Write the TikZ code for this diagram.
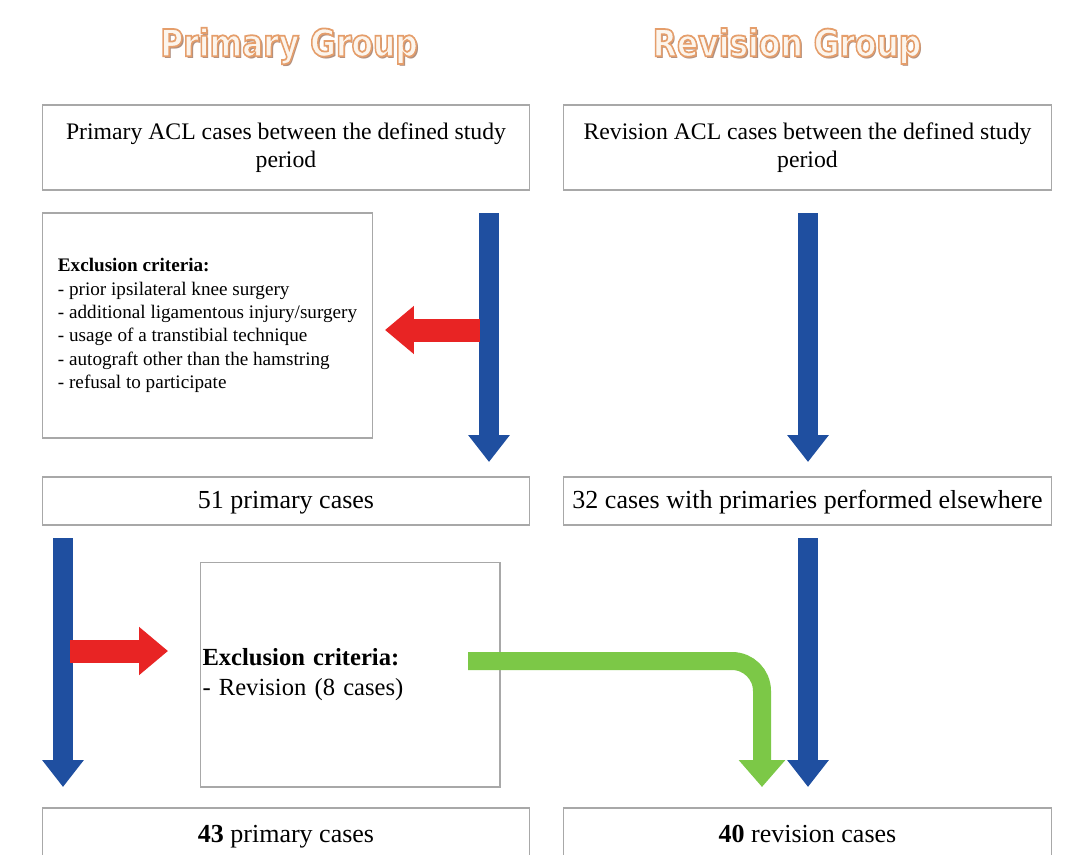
\documentclass[tikz,border=0pt]{standalone}
\usepackage{fontspec}
\setmainfont{Liberation Serif}
\newfontfamily\titlefont{DejaVu Sans}
\usetikzlibrary{arrows.meta}
\definecolor{BoxLine}{HTML}{A8A8A8}
\definecolor{FlowBlue}{HTML}{1F4FA0}
\definecolor{FlowRed}{HTML}{E82424}
\definecolor{FlowGreen}{HTML}{7CC847}
\definecolor{TitleShade}{HTML}{B09080}
% orange edged, pale filled lettering
\newcommand{\edgedtext}[1]{\special{pdf:literal direct 2 Tr 0.9 w 0.90 0.62 0.42 RG 0.99 0.96 0.93 rg}#1\special{pdf:literal direct 0 Tr 0 g 0 G}}

\tikzset{
  box/.style={draw=BoxLine, line width=0.6pt, fill=white, minimum width=9.76cm, align=center, inner sep=0pt},
  onebox/.style={box, text height=0.92em, text depth=0.12em, font=\fontsize{14.8}{17}\selectfont},
  exclbox/.style={draw=BoxLine, line width=0.6pt, fill=white, minimum height=4.5cm, align=left},
  bluearrow/.style={draw=FlowBlue, line width=0.4cm, -{Triangle[width=0.8cm,length=0.54cm]}},
  redarrow/.style={draw=FlowRed, line width=0.46cm, -{Triangle[width=0.93cm,length=0.58cm]}},
  greenarrow/.style={draw=FlowGreen, line width=0.36cm, rounded corners=0.6cm, -{Triangle[width=0.9cm,length=0.54cm]}},
  grouptitle/.style={font=\titlefont\bfseries\fontsize{19}{22}\selectfont}
}

\begin{document}
\begin{tikzpicture}[x=0.02cm,y=-0.02cm]
\useasboundingbox (0,0) rectangle (1075,855);
\clip (0,0) rectangle (1075,855);
\fill[white] (0,0) rectangle (1075,855);

% group titles
\node[grouptitle, text=TitleShade] (shadeL) at (291,48) {\scalebox{0.94}[1.12]{Primary Group}};
\node[grouptitle] (titleL) at (289,46) {\scalebox{0.94}[1.12]{\edgedtext{Primary Group}}};
\node[grouptitle, text=TitleShade] (shadeR) at (789,48) {\scalebox{0.94}[1.12]{Revision Group}};
\node[grouptitle] (titleR) at (787,46) {\scalebox{0.94}[1.12]{\edgedtext{Revision Group}}};

% boxes
\node[box, minimum height=1.7cm, font=\fontsize{13.5}{16}\selectfont] (topL) at (286,147.5)
  {Primary ACL cases between the defined study\\period};
\node[box, minimum height=1.7cm, font=\fontsize{13.5}{16}\selectfont] (topR) at (807.5,147.5)
  {Revision ACL cases between the defined study\\period};
\node[exclbox, minimum width=6.62cm, inner xsep=0pt, font=\fontsize{10.9}{13.3}\selectfont] (exclA) at (207.5,325.5)
  {\textbf{Exclusion criteria:}\\
   - prior ipsilateral knee surgery\\
   - additional ligamentous injury/surgery\\
   - usage of a transtibial technique\\
   - autograft other than the hamstring\\
   - refusal to participate};
\node[onebox, minimum height=0.96cm] (midL) at (286,501) {51 primary cases};
\node[onebox, minimum height=0.96cm] (midR) at (807.5,501) {32 cases with primaries performed elsewhere};
\node[exclbox, minimum width=6cm, text width=5.9cm, inner xsep=0.05cm, font=\fontsize{14}{17}\selectfont] (exclB) at (350,674.5)
  {\textbf{Exclusion criteria:}\\- Revision (8 cases)};
\node[onebox, minimum height=1.08cm] (botL) at (286,835) {\textbf{43} primary cases};
\node[onebox, minimum height=1.08cm] (botR) at (807.5,835) {\textbf{40} revision cases};

% arrow ends
\coordinate (blueAs) at (489,213);  \coordinate (blueAe) at (489,462);
\coordinate (blueBs) at (808,213);  \coordinate (blueBe) at (808,462);
\coordinate (blueCs) at (63,538);   \coordinate (blueCe) at (63,787);
\coordinate (blueDs) at (808,538);  \coordinate (blueDe) at (808,787);
\coordinate (redAs) at (480,330);   \coordinate (redAe) at (385,330);
\coordinate (redBs) at (70,651);    \coordinate (redBe) at (168,651);
\coordinate (greenS) at (468,661);  \coordinate (greenE) at (762,787);

\draw[bluearrow] (blueAs) -- (blueAe);
\draw[bluearrow] (blueBs) -- (blueBe);
\draw[bluearrow] (blueCs) -- (blueCe);
\draw[bluearrow] (blueDs) -- (blueDe);
\draw[redarrow] (redAs) -- (redAe);
\draw[redarrow] (redBs) -- (redBe);
\draw[greenarrow] (greenS) -| (greenE);
\end{tikzpicture}
\end{document}
